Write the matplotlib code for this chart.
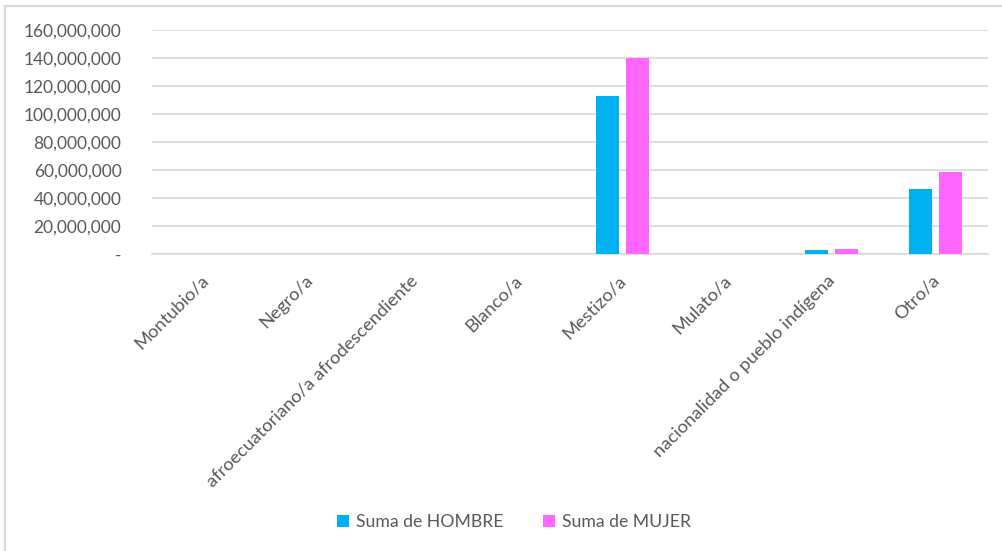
import matplotlib
matplotlib.use("Agg")
import matplotlib.pyplot as plt
import matplotlib.ticker as mticker
from matplotlib.lines import Line2D
import numpy as np

plt.rcParams['font.family'] = ['Lato', 'DejaVu Sans']

categories = ["Montubio/a", "Negro/a", "afroecuatoriano/a afrodescendiente", "Blanco/a",
              "Mestizo/a", "Mulato/a", "nacionalidad o pueblo indígena", "Otro/a"]
hombre = [150000, 120000, 100000, 110000, 112900000, 80000, 2900000, 46200000]
mujer = [160000, 130000, 110000, 120000, 140300000, 90000, 3700000, 58400000]
series_names = ["Suma de HOMBRE", "Suma de MUJER"]
colors = ["#00B0F0", "#FF66FF"]
yticks = list(range(0, 160000001, 20000000))

W, H = 1003, 551
fig = plt.figure(figsize=(W/100, H/100), dpi=100)
fig.patch.set_facecolor("white")
fig.lines.append(Line2D([5.5/W, 5.5/W], [0, 1 - 6/H], transform=fig.transFigure,
                        color="#D9D9D9", linewidth=1.5))
fig.lines.append(Line2D([5.5/W, 1], [1 - 6/H, 1 - 6/H], transform=fig.transFigure,
                        color="#D9D9D9", linewidth=1.5))

ax = fig.add_axes([152/W, 1 - 254/H, (988-152)/W, (254-30)/H])
x = np.arange(len(categories))
bw = 0.22
off = 0.144
ax.bar(x - off, hombre, bw, color=colors[0], label=series_names[0], zorder=3)
ax.bar(x + off, mujer, bw, color=colors[1], label=series_names[1], zorder=3)

ax.set_xlim(-0.5, len(categories) - 0.5)
ax.set_ylim(0, 160000000)
ax.set_yticks(yticks)
ax.yaxis.set_major_formatter(mticker.FuncFormatter(lambda v, p: "-" if v == 0 else f"{int(v):,}"))
ax.grid(axis="y", color="#D9D9D9", linewidth=1.2, zorder=0)
for s in ["top", "right", "left"]:
    ax.spines[s].set_visible(False)
ax.spines["bottom"].set_color("#D9D9D9")
ax.spines["bottom"].set_linewidth(1.2)
ax.tick_params(axis="both", length=0, colors="#595959", labelsize=12.5)
ax.tick_params(axis="y", pad=22)
ax.set_xticks(x - 0.04)
ax.set_xticklabels(categories, rotation=45, ha="right", rotation_mode="anchor", fontsize=13.2)
ax.tick_params(axis="x", pad=13)

leg = fig.legend(loc="center", bbox_to_anchor=(514/W, 1 - 522/H), ncol=2, frameon=False,
                 fontsize=12.7, handlelength=0.7, handleheight=0.7, handletextpad=0.4,
                 columnspacing=2.2, labelcolor="#595959")

fig.savefig("out.png", dpi=100, facecolor="white")
